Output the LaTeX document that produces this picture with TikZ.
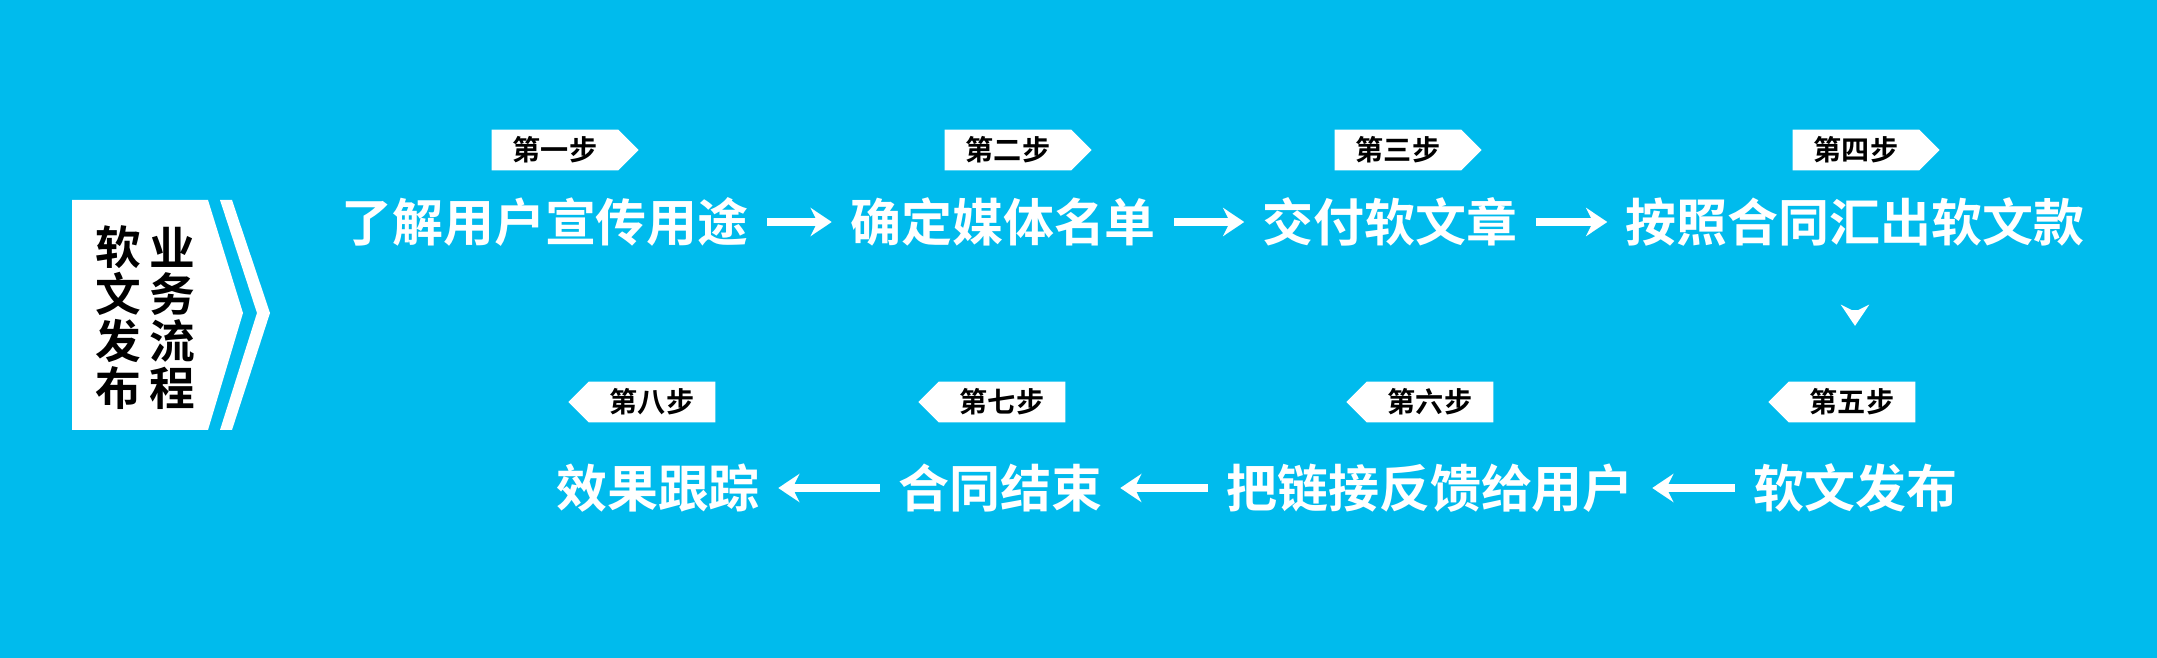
\documentclass[tikz,border=0pt]{standalone}
\usepackage{fontspec}
\usetikzlibrary{shapes.symbols,arrows.meta}
\newfontfamily\cjk{Noto Sans CJK SC Bold}
\definecolor{bgblue}{RGB}{0,187,237}
\tikzset{
    STEP/.style ={text=white, font=\cjk\fontsize{14.5}{16}\selectfont, inner sep=0pt},
    TAGR/.style ={signal, signal to=east, fill=white, text=black, font=\cjk\fontsize{8}{9}\selectfont, minimum height=8.5mm*0.01/0.0352, inner xsep=6pt, inner ysep=2pt},
    TAGL/.style ={TAGR, signal to=west},
    AR/.style ={white, line width=2.2pt, -{Stealth[length=6pt,width=8pt]}, shorten <=5pt, shorten >=5pt},
    TT/.style ={text=black, font=\cjk\fontsize{13}{14}\selectfont, inner sep=0pt}}
\begin{document}
\begin{tikzpicture}[x=0.01cm,y=0.01cm]
        \fill[bgblue] (0,0) rectangle (2157,-658);
        % title box
        \fill[white] (72,-200) -- (208,-200) -- (243,-313) -- (208,-430) -- (72,-430) -- cycle;
        \fill[white] (220,-200) -- (232,-200) -- (270,-313) -- (232,-430) -- (220,-430) -- (257,-313) -- cycle;
        \foreach \c [count=\i] in {软,文,发,布}
            \node[TT] (a\i) at (118,-200-\i*47){\c};
        \foreach \c [count=\i] in {业,务,流,程}
            \node[TT] (b\i) at (172,-200-\i*47){\c};
        % steps
        \node[STEP] (1) at (545,-222){了解用户宣传用途};
        \node[STEP] (2) at (1003,-222){确定媒体名单};
        \node[STEP] (3) at (1390,-222){交付软文章};
        \node[STEP] (4) at (1855,-222){按照合同汇出软文款};
        \node[STEP] (5) at (1855,-488){软文发布};
        \node[STEP] (6) at (1430,-488){把链接反馈给用户};
        \node[STEP] (7) at (1000,-488){合同结束};
        \node[STEP] (8) at (658,-488){效果跟踪};
        \node[TAGR] (t1) at (555,-150){第一步};
        \node[TAGR] (t2) at (1008,-150){第二步};
        \node[TAGR] (t3) at (1398,-150){第三步};
        \node[TAGR] (t4) at (1856,-150){第四步};
        \node[TAGL] (t5) at (1852,-402){第五步};
        \node[TAGL] (t6) at (1430,-402){第六步};
        \node[TAGL] (t7) at (1002,-402){第七步};
        \node[TAGL] (t8) at (652,-402){第八步};
        \draw[AR] (1.east) -- (2.west);
        \draw[AR] (2.east) -- (3.west);
        \draw[AR] (3.east) -- (4.west);
        \draw[AR,shorten <=18pt,shorten >=39pt] (4.south) -- (5.north);
        \draw[AR] (5.west) -- (6.east);
        \draw[AR] (6.west) -- (7.east);
        \draw[AR] (7.west) -- (8.east);
\end{tikzpicture}
\end{document}
